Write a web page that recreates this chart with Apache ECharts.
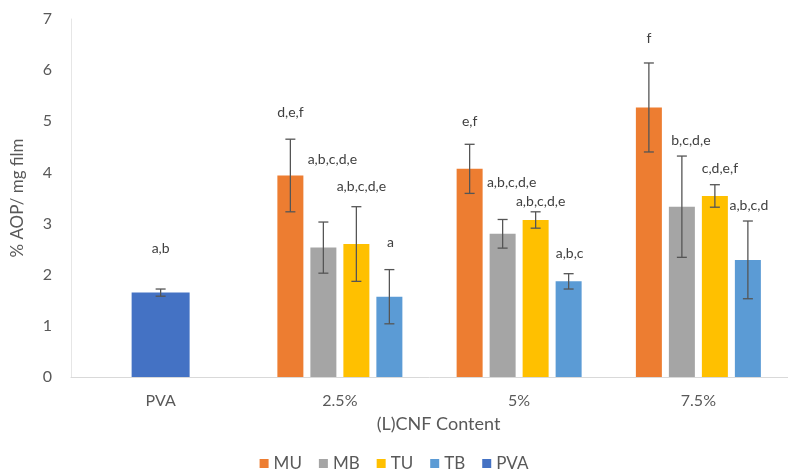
<!DOCTYPE html>
<html>
<head>
<meta charset="utf-8">
<script src="https://cdn.jsdelivr.net/npm/echarts@6/dist/echarts.min.js"></script>
<style>html,body{margin:0;padding:0;background:#fff;}#c{width:788px;height:472px;}</style>
</head>
<body>
<div id="c"></div>
<script>
// ---- data ----
var categories = ['PVA', '2.5%', '5%', '7.5%'];
var yTicks = [0, 1, 2, 3, 4, 5, 6, 7];
var seriesNames = ['MU', 'MB', 'TU', 'TB', 'PVA'];

var MU = [null, 3.94, 4.07, 5.27];
var MB = [null, 2.53, 2.80, 3.33];
var TU = [null, 2.60, 3.07, 3.54];
var TB = [null, 1.57, 1.87, 2.29];
var PVA = [1.65, null, null, null];

var MU_err = [null, 0.71, 0.48, 0.87];
var MB_err = [null, 0.50, 0.28, 0.99];
var TU_err = [null, 0.73, 0.16, 0.22];
var TB_err = [null, 0.53, 0.15, 0.76];
var PVA_err = [0.07, null, null, null];

var MU_sig = ['', 'd,e,f', 'e,f', 'f'];
var MB_sig = ['', 'a,b,c,d,e', 'a,b,c,d,e', 'b,c,d,e'];
var TU_sig = ['', 'a,b,c,d,e', 'a,b,c,d,e', 'c,d,e,f'];
var TB_sig = ['', 'a', 'a,b,c', 'a,b,c,d'];
var PVA_sig = ['a,b', '', '', ''];

// height (in y-axis units) where each significance label sits
var MU_sigY = [null, 5.17, 4.99, 6.61];
var MB_sigY = [null, 4.25, 3.80, 4.62];
var TU_sigY = [null, 3.72, 3.44, 4.07];
var TB_sigY = [null, 2.63, 2.41, 3.35];
var PVA_sigY = [2.52, null, null, null];

// ---- chart ----
var colors = {MU: '#ED7D31', MB: '#A5A5A5', TU: '#FFC000', TB: '#5B9BD5', PVA: '#4472C4'};
var FONT = 'Lato, "Open Sans", sans-serif';
var BAR_W = 26, BAR_GAP = 7, PVA_W = 58;

var groups = [
  {name: 'MU', vals: MU, err: MU_err, sig: MU_sig, sigY: MU_sigY, off: -1.5 * (BAR_W + BAR_GAP), lx: 0},
  {name: 'MB', vals: MB, err: MB_err, sig: MB_sig, sigY: MB_sigY, off: -0.5 * (BAR_W + BAR_GAP), lx: 9},
  {name: 'TU', vals: TU, err: TU_err, sig: TU_sig, sigY: TU_sigY, off: 0.5 * (BAR_W + BAR_GAP), lx: 5},
  {name: 'TB', vals: TB, err: TB_err, sig: TB_sig, sigY: TB_sigY, off: 1.5 * (BAR_W + BAR_GAP), lx: 1},
  {name: 'PVA', vals: PVA, err: PVA_err, sig: PVA_sig, sigY: PVA_sigY, off: 0, lx: 0}
];

var series = [];
groups.forEach(function (g) {
  var isPVA = g.name === 'PVA';
  series.push({
    name: g.name,
    type: 'bar',
    xAxisIndex: isPVA ? 1 : 0,
    barWidth: isPVA ? PVA_W : BAR_W,
    barGap: (BAR_GAP / BAR_W * 100) + '%',
    itemStyle: {color: colors[g.name]},
    data: g.vals
  });
});

groups.forEach(function (g) {
  var data = [];
  for (var i = 0; i < categories.length; i++) {
    if (g.vals[i] != null) data.push([i, g.vals[i], g.err[i], g.sigY[i], i]);
  }
  series.push({
    name: g.name,
    type: 'custom',
    xAxisIndex: 0,
    z: 5,
    silent: true,
    data: data,
    encode: {x: 0, y: 1},
    renderItem: function (params, api) {
      var ci = api.value(0), v = api.value(1), e = api.value(2), ly = api.value(3), idx = api.value(4);
      var top = api.coord([ci, v + e]);
      var bot = api.coord([ci, v - e]);
      var lab = api.coord([ci, ly]);
      var x = top[0] + g.off;
      var cap = 5;
      var st = {stroke: '#555555', lineWidth: 1.3};
      return {
        type: 'group',
        children: [
          {type: 'line', shape: {x1: x, y1: top[1], x2: x, y2: bot[1]}, style: st},
          {type: 'line', shape: {x1: x - cap, y1: top[1], x2: x + cap, y2: top[1]}, style: st},
          {type: 'line', shape: {x1: x - cap, y1: bot[1], x2: x + cap, y2: bot[1]}, style: st},
          {type: 'text', x: x + g.lx, y: lab[1],
            style: {text: g.sig[idx], fill: '#404040', font: '14px ' + FONT, align: 'center', verticalAlign: 'middle'}}
        ]
      };
    }
  });
});

var chart = echarts.init(document.getElementById('c'), null, {renderer: 'canvas'});
chart.setOption({
  animation: false,
  backgroundColor: '#ffffff',
  textStyle: {fontFamily: FONT},
  grid: {left: 71, top: 19, width: 728, height: 358, containLabel: false},
  legend: {
    data: seriesNames.map(function (n) { return {name: n, icon: 'rect'}; }),
    top: 450,
    left: 'center',
    itemWidth: 9,
    itemHeight: 9,
    itemGap: 17,
    textStyle: {color: '#595959', fontSize: 17, fontFamily: FONT}
  },
  xAxis: [
    {
      type: 'category',
      data: categories,
      name: '(L)CNF Content',
      nameLocation: 'middle',
      nameGap: 38,
      nameTextStyle: {color: '#595959', fontSize: 18, fontFamily: FONT, padding: [0, 0, 0, 18]},
      axisLine: {lineStyle: {color: '#d9d9d9', width: 1}},
      axisTick: {show: false},
      axisLabel: {color: '#595959', fontSize: 16, margin: 16, fontFamily: FONT}
    },
    {
      type: 'category',
      data: categories,
      show: false
    }
  ],
  yAxis: {
    type: 'value',
    min: yTicks[0],
    max: yTicks[yTicks.length - 1],
    interval: 1,
    name: '% AOP/ mg film',
    nameLocation: 'middle',
    nameGap: 45,
    nameTextStyle: {color: '#595959', fontSize: 17, fontFamily: FONT},
    axisLine: {show: true, lineStyle: {color: '#e6e6e6', width: 1}},
    axisTick: {show: false},
    splitLine: {show: false},
    axisLabel: {color: '#595959', fontSize: 16, margin: 19, fontFamily: FONT}
  },
  series: series
});
</script>
</body>
</html>
